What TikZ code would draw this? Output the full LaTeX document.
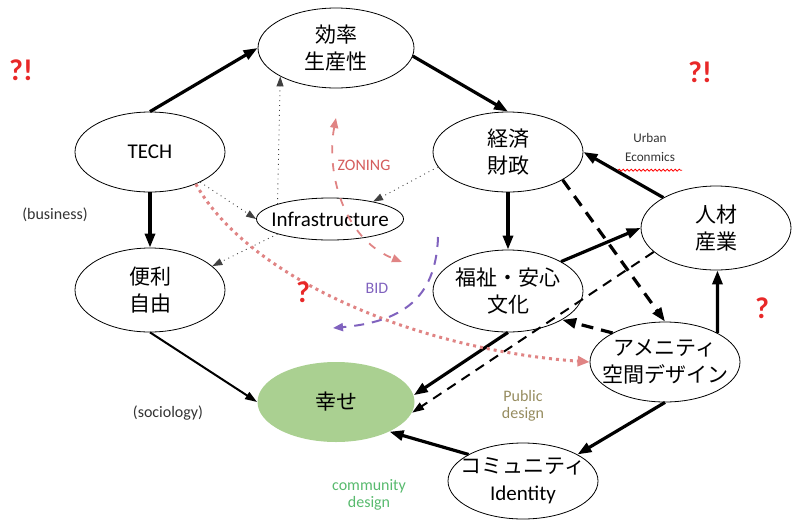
\documentclass[tikz,border=0pt]{standalone}
\usepackage{fontspec}
\setmainfont{Carlito}
\newfontfamily\jp{Noto Sans CJK JP}
\usetikzlibrary{shapes.geometric,arrows.meta,decorations.pathmorphing}
\definecolor{qred}{RGB}{232,40,40}
\definecolor{zpink}{RGB}{224,132,132}
\definecolor{ztext}{RGB}{212,92,92}
\definecolor{bidpurple}{RGB}{128,98,190}
\definecolor{pubolive}{RGB}{150,140,95}
\definecolor{comgreen}{RGB}{88,186,110}
\definecolor{happygreen}{RGB}{170,208,145}

\begin{document}
\begin{tikzpicture}[x=0.5pt,y=-0.5pt,
  oval/.style={draw,ellipse,inner sep=-6pt,minimum width=75pt,minimum height=40pt,
    align=center,font=\fontsize{10.5}{13.5}\selectfont},
  jpoval/.style={oval,font=\jp\fontsize{10.5}{13.5}\selectfont},
  strong/.style={line width=1.6pt,-{Triangle[length=7pt,width=5pt]}},
  plain/.style={line width=1pt,-{Triangle[length=6pt,width=4pt]}},
  faint/.style={line width=0.45pt,black!75,dotted,-{Triangle[length=5pt,width=3.5pt]}},
  qmark/.style={text=qred,font=\bfseries\fontsize{15}{15}\selectfont},
  note/.style={align=center,text=black!80,font=\fontsize{8}{8.5}\selectfont}]
  \useasboundingbox (0,0) rectangle (792,520);

  \node [jpoval,minimum width=78pt] (eff) at (336,48) {効率\\生産性};
  \node [oval] (tech) at (150,152) {TECH};
  \node [jpoval] (econ) at (508,152) {経済\\財政};
  \node [oval,minimum width=73.5pt,minimum height=21pt] (infra) at (330,219) {Infrastructure};
  \node [jpoval,minimum height=42pt] (jinzai) at (716,228) {人材\\産業};
  \node [jpoval,minimum height=42pt] (benri) at (150,290) {便利\\自由};
  \node [jpoval,minimum height=41pt] (fukushi) at (508,291) {福祉・安心\\文化};
  \node [jpoval] (amenity) at (665,362) {アメニティ\\空間デザイン};
  \node [jpoval,draw=none,fill=happygreen,minimum width=78.5pt] (happy) at (336,402) {幸せ};
  \node [oval,minimum height=38pt] (comm) at (523,481) {{\jp コミュニティ}\\Identity};

  \draw [strong] (tech.north) -- (eff.west);
  \draw [strong] (eff.-6) -- (econ.north);
  \draw [strong] (tech.south) -- (benri.north);
  \draw [strong] (econ.south) -- (fukushi.north);
  \draw [plain] (benri.south) -- (happy.west);
  \draw [strong] (fukushi.south) -- (happy.5);
  \draw [strong] (jinzai.150) -- (econ.east);
  \draw [strong] (fukushi.29) -- (jinzai.west);
  \draw [strong,dash pattern=on 6pt off 4pt] (econ.-27) -- (amenity.north);
  \draw [plain,dash pattern=on 5pt off 3.5pt] (jinzai.201) -- (happy.-8);
  \draw [strong,dash pattern=on 6pt off 4pt] (amenity.151) -- (fukushi.-28);
  \draw [strong] (amenity.29) -- (jinzai.-88);
  \draw [strong] (amenity.south) -- (comm.26);
  \draw [strong] (comm.154) -- (happy.-29);

  \draw [faint] (tech.-31) -- (infra.west);
  \draw [faint] (econ.192) -- (infra.22);
  \draw [faint] (infra.164) -- (eff.207);
  \draw [faint] (infra.196) -- (benri.21);

  \draw [zpink,line width=1.5pt,dash pattern=on 1.5pt off 2pt,-{Triangle[length=6pt,width=5pt]}]
    (tech.-35) .. controls (250,280) and (420,350) .. (amenity.west);

  \coordinate (zoneA) at (336,118);
  \coordinate (zoneB) at (402,262);
  \draw [zpink,line width=0.9pt,dash pattern=on 4pt off 5pt,{Triangle[length=5pt,width=4pt]}-{Triangle[length=5pt,width=4pt]}]
    (zoneA) .. controls (326,170) and (342,238) .. (zoneB);
  \coordinate (bidA) at (438,237);
  \coordinate (bidB) at (333,328);
  \draw [bidpurple,line width=1pt,dash pattern=on 5pt off 4pt,-{Triangle[length=5pt,width=4pt]}]
    (bidA) .. controls (436,300) and (400,322) .. (bidB);

  \node [qmark] (qa) at (21,70) {?!};
  \node [qmark] (qb) at (700,72) {?!};
  \node [qmark] (qc) at (303,292) {?};
  \node [qmark] (qd) at (762,308) {?};

  \node [note] (biz) at (55,215) {(business)};
  \node [note] (soc) at (168,413) {(sociology)};
  \node [note,font=\fontsize{6.6}{9.5}\selectfont] (urban) at (650,147) {Urban\\Econmics};
  \draw [red,line width=0.4pt,decorate,decoration={snake,amplitude=0.5pt,segment length=2pt}]
    ([yshift=-1pt]urban.south west) -- ([yshift=-1pt]urban.south east);
  \node [note,text=ztext] (zoning) at (364,165) {ZONING};
  \node [note,text=bidpurple] (bid) at (377,288) {BID};
  \node [note,text=pubolive] (pub) at (523,406) {Public\\design};
  \node [note,text=comgreen] (comd) at (369,495) {community\\design};
\end{tikzpicture}
\end{document}
